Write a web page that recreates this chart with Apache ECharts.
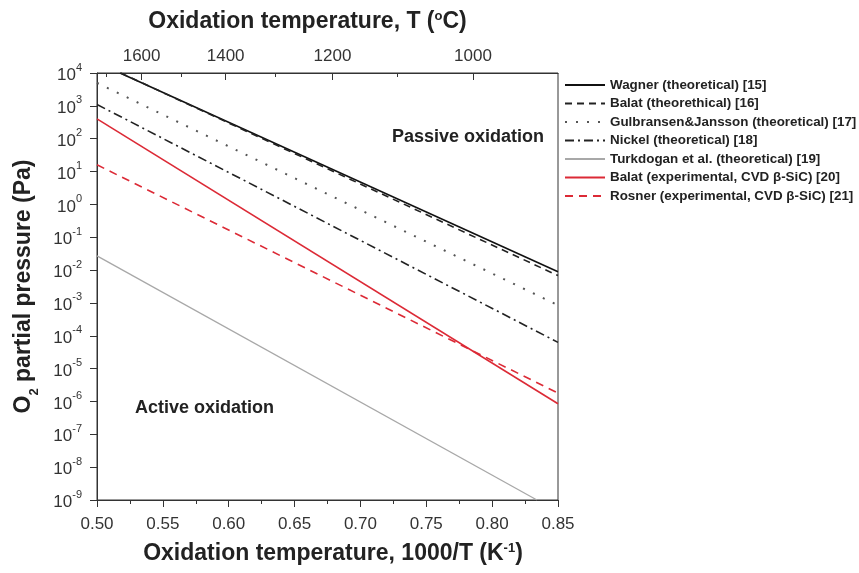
<!DOCTYPE html>
<html><head><meta charset="utf-8">
<script src="https://cdn.jsdelivr.net/npm/echarts@6/dist/echarts.min.js"></script>
<style>html,body{margin:0;padding:0;background:#fff}#c{width:859px;height:573px}</style>
</head><body><div id="c"></div>
<script>
// ---- data (x = 1000/T in K^-1, y = O2 partial pressure in Pa) ----
const seriesNames = [
  'Wagner (theoretical) [15]',
  'Balat (theorethical) [16]',
  'Gulbransen&Jansson (theoretical) [17]',
  'Nickel (theoretical) [18]',
  'Turkdogan et al. (theoretical) [19]',
  'Balat (experimental, CVD \u03B2-SiC) [20]',
  'Rosner (experimental, CVD \u03B2-SiC) [21]'
];
const wagner     = [[0.5175, 1.0e4], [0.85, 8.9e-3]];
const balatTheo  = [[0.518, 1.0e4], [0.85, 6.8e-3]];
const gulbransen = [[0.50, 5.0e3], [0.85, 8.5e-4]];
const nickel     = [[0.50, 1.1e3], [0.85, 6.3e-5]];
const turkdogan  = [[0.50, 2.7e-2], [0.834, 1.0e-9]];
const balatExp   = [[0.50, 4.0e2], [0.85, 8.5e-7]];
const rosner     = [[0.50, 1.6e1], [0.85, 1.8e-6]];
const topTempsMajor = [1600, 1400, 1200, 1000];   // °C
const topTempsMinor = [1700, 1500, 1300, 1100];   // °C
const yTickValues = [1e4, 1e3, 1e2, 1e1, 1e0, 1e-1, 1e-2, 1e-3, 1e-4, 1e-5, 1e-6, 1e-7, 1e-8, 1e-9];

const FONT = 'Liberation Sans, Arial, sans-serif';
const RED = '#dc2a36';
const toInv = t => 1000 / (t + 273.15);

const chart = echarts.init(document.getElementById('c'));
const gridRect = {left: 97, right: 301, top: 73, bottom: 73};

function line(name, data, color, width, type) {
  return {
    name, type: 'line', data, xAxisIndex: 0, yAxisIndex: 0,
    symbol: 'none', clip: true, silent: true,
    lineStyle: {color, width, type},
    itemStyle: {color}
  };
}

function titleStyle(padding) {
  return {
    fontSize: 23, fontWeight: 'bold', color: '#222', fontFamily: FONT, padding,
    rich: {
      s: {fontSize: 13, fontWeight: 'bold', verticalAlign: 'top', lineHeight: 12, color: '#222', fontFamily: FONT},
      sub: {fontSize: 13, fontWeight: 'bold', verticalAlign: 'bottom', lineHeight: 34, color: '#222', fontFamily: FONT}
    }
  };
}

chart.setOption({
  animation: false,
  backgroundColor: '#fff',
  grid: [
    Object.assign({show: true, borderColor: '#333', borderWidth: 1, backgroundColor: 'transparent'}, gridRect),
    Object.assign({show: false}, gridRect)
  ],
  xAxis: [
    {
      type: 'value', gridIndex: 0, position: 'bottom', min: 0.5, max: 0.85, interval: 0.05,
      axisLine: {show: true, onZero: false, lineStyle: {color: '#333', width: 1}},
      axisTick: {show: true, inside: false, length: 7, lineStyle: {color: '#333'}},
      minorTick: {show: true, splitNumber: 2, length: 4, lineStyle: {color: '#333'}},
      splitLine: {show: false},
      axisLabel: {margin: 16, fontSize: 17, color: '#333', fontFamily: FONT,
        formatter: v => v.toFixed(2)},
      name: 'Oxidation temperature, 1000/T (K{s|-1})',
      nameLocation: 'middle', nameGap: 42,
      nameTextStyle: titleStyle([0, 0, 0, 11])
    },
    {
      type: 'value', gridIndex: 0, position: 'top', min: 0.5, max: 0.85,
      axisLine: {show: true, onZero: false, lineStyle: {color: '#333', width: 1}},
      axisTick: {show: true, inside: true, length: 7, customValues: topTempsMajor.map(toInv), lineStyle: {color: '#333'}},
      splitLine: {show: false},
      axisLabel: {margin: 8, fontSize: 17, color: '#333', fontFamily: FONT,
        customValues: topTempsMajor.map(toInv),
        formatter: v => String(Math.round(1000 / v - 273.15))},
      name: 'Oxidation temperature, T ({s|o}C)',
      nameLocation: 'middle', nameGap: 40,
      nameTextStyle: titleStyle([0, 40, 0, 0])
    },
    {
      type: 'value', gridIndex: 1, position: 'top', min: 0.5, max: 0.85,
      axisLine: {show: false, onZero: false},
      axisTick: {show: true, inside: true, length: 4, customValues: topTempsMinor.map(toInv), lineStyle: {color: '#333'}},
      axisLabel: {show: false}, splitLine: {show: false}
    }
  ],
  yAxis: [
    {
      type: 'log', gridIndex: 0, logBase: 10, min: 1e-9, max: 1e4,
      axisLine: {show: true, onZero: false, lineStyle: {color: '#333', width: 1}},
      axisTick: {show: true, inside: false, length: 7, customValues: yTickValues, lineStyle: {color: '#333'}},
      minorTick: {show: false},
      splitLine: {show: false},
      axisLabel: {
        margin: 15, color: '#333', fontFamily: FONT,
        customValues: yTickValues,
        formatter: v => '{b|10}{s|' + Math.round(Math.log10(v)) + '}',
        rich: {
          b: {fontSize: 17, lineHeight: 22, verticalAlign: 'bottom', color: '#333', fontFamily: FONT},
          s: {fontSize: 11, lineHeight: 22, verticalAlign: 'top', color: '#333', fontFamily: FONT}
        }
      },
      name: 'O{sub|2} partial pressure (Pa)',
      nameLocation: 'middle', nameGap: 56, nameRotate: 90,
      nameTextStyle: titleStyle(0)
    },
    {
      type: 'value', gridIndex: 1, show: false, min: 1, max: 2
    }
  ],
  legend: {
    orient: 'vertical', left: 559, top: 73,
    itemWidth: 40, itemHeight: 14, itemGap: 4.5,
    itemStyle: {opacity: 0},
    textStyle: {fontSize: 13.4, fontWeight: 'bold', color: '#222', fontFamily: FONT, lineHeight: 14},
    data: seriesNames
  },
  series: [
    line(seriesNames[0], wagner, '#111', 1.6, 'solid'),
    line(seriesNames[1], balatTheo, '#222', 1.6, [7, 5]),
    line(seriesNames[2], gulbransen, '#555', 2, [2, 9]),
    line(seriesNames[3], nickel, '#222', 1.6, [9, 4, 2, 4]),
    line(seriesNames[4], turkdogan, '#a8a8a8', 1.3, 'solid'),
    line(seriesNames[5], balatExp, RED, 1.6, 'solid'),
    line(seriesNames[6], rosner, RED, 1.6, [8, 6])
  ],
  graphic: [
    {type: 'text', left: 392, top: 128, style: {text: 'Passive oxidation', fontSize: 18, fontWeight: 'bold', fill: '#222', fontFamily: FONT}},
    {type: 'text', left: 135, top: 399, style: {text: 'Active oxidation', fontSize: 18, fontWeight: 'bold', fill: '#222', fontFamily: FONT}}
  ]
});
</script>
</body></html>
